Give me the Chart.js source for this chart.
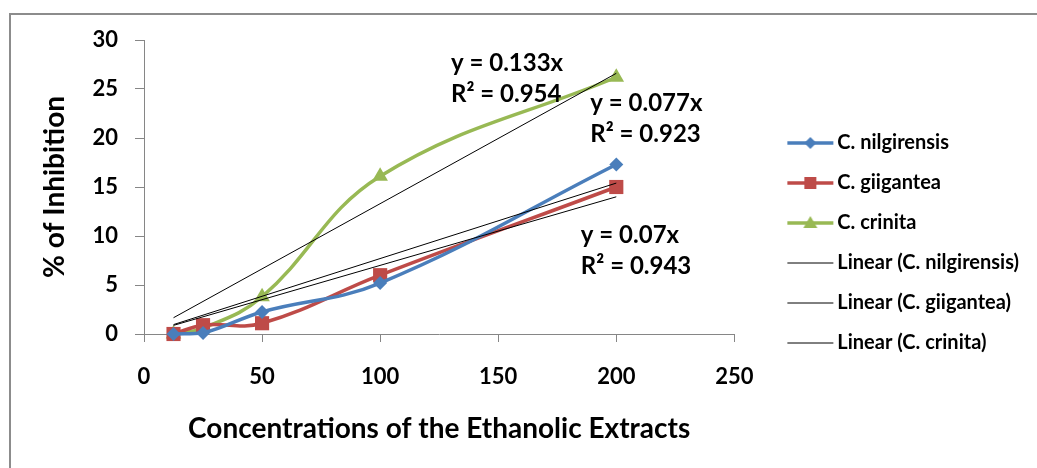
<!DOCTYPE html>
<html><head><meta charset="utf-8">
<script src="https://cdn.jsdelivr.net/npm/chart.js@4.4.1/dist/chart.umd.min.js"></script>
<style>
html,body{margin:0;padding:0;background:#fff;overflow:hidden;width:1037px;height:468px;}
#frame{position:absolute;left:9px;top:13px;width:1100px;height:520px;border:2px solid #8c8c8c;box-sizing:border-box;}
#c{position:absolute;left:0;top:0;}
</style></head><body>
<div id="frame"></div>
<canvas id="c" width="1037" height="468"></canvas>
<script>
// ---- data ----
const concentrations = [12.5, 25, 50, 100, 200];
const nilgirensis = [0, 0.1, 2.25, 5.2, 17.3];
const giigantea   = [0, 0.9, 1.1, 6.0, 15.0];
const crinita     = [0, 0.6, 3.8, 16.1, 26.2];
const trendX = [12.5, 200];
const trendNilgirensis = [0.96, 15.4];
const trendGiigantea   = [0.88, 14.0];
const trendCrinita     = [1.66, 26.6];
const seriesNames = ['C. nilgirensis', 'C. giigantea', 'C. crinita'];
const trendNames = ['Linear (C. nilgirensis)', 'Linear (C. giigantea)', 'Linear (C. crinita)'];
const xTickValues = [0, 50, 100, 150, 200, 250];
const yTickValues = [0, 5, 10, 15, 20, 25, 30];
const equationTexts = [['y = 0.133x', 'R\u00B2 = 0.954'], ['y = 0.077x', 'R\u00B2 = 0.923'], ['y = 0.07x', 'R\u00B2 = 0.943']];

// ---- styles / placement ----
const FONT = 'Lato';
const colors = ['#4A7EBB', '#BE4B48', '#98B954'];
const shapes = ['rectRot', 'rect', 'triangle'];
const radii = [7, 10, 9];
const eqAnchor = { x: [130, 189, 185], y: [27.6, 23.5, 10.1] };
const LEGEND_FONT = 20;
const LEGEND_PAD = 20;
const LEGEND_BOX_W = 73;

const toPts = (xs, ys) => xs.map((x, i) => ({ x: x, y: ys[i] }));

function legendIcon(color, shape, lw) {
  const c = document.createElement('canvas');
  c.width = 87; c.height = 18;
  const g = c.getContext('2d');
  g.strokeStyle = color; g.lineWidth = lw;
  g.beginPath(); g.moveTo(40, 9); g.lineTo(86, 9); g.stroke();
  g.fillStyle = color;
  const cx = 63, cy = 9;
  if (shape === 'rectRot') {
    g.beginPath(); g.moveTo(cx, cy - 6); g.lineTo(cx + 6, cy); g.lineTo(cx, cy + 6); g.lineTo(cx - 6, cy); g.closePath(); g.fill();
  } else if (shape === 'rect') {
    g.fillRect(cx - 6, cy - 6, 12, 12);
  } else if (shape === 'triangle') {
    g.beginPath(); g.moveTo(cx, cy - 7); g.lineTo(cx + 7, cy + 5); g.lineTo(cx - 7, cy + 5); g.closePath(); g.fill();
  }
  return c;
}
const legendIcons = [
  legendIcon(colors[0], shapes[0], 3.5),
  legendIcon(colors[1], shapes[1], 3.5),
  legendIcon(colors[2], shapes[2], 3.5),
  legendIcon('#000', null, 1),
  legendIcon('#000', null, 1),
  legendIcon('#000', null, 1)
];

const seriesData = [nilgirensis, giigantea, crinita];
const trendData = [trendNilgirensis, trendGiigantea, trendCrinita];

const datasets = [];
seriesData.forEach((vals, i) => {
  datasets.push({
    label: seriesNames[i],
    data: toPts(concentrations, vals),
    borderColor: colors[i],
    backgroundColor: colors[i],
    pointBackgroundColor: colors[i],
    pointBorderColor: colors[i],
    pointBorderWidth: 0,
    borderWidth: 3.5,
    pointStyle: shapes[i],
    pointRadius: radii[i],
    tension: 0.4,
    clip: false,
    order: 2
  });
});
trendData.forEach((vals, i) => {
  datasets.push({
    label: trendNames[i],
    data: toPts(trendX, vals),
    borderColor: '#000',
    backgroundColor: '#000',
    borderWidth: 1,
    pointRadius: 0,
    tension: 0,
    clip: false,
    order: 1
  });
});

const eqPlugin = {
  id: 'equations',
  afterDatasetsDraw(chart) {
    const { ctx, scales } = chart;
    ctx.save();
    ctx.font = 'bold 24px ' + FONT;
    ctx.fillStyle = '#000';
    ctx.textAlign = 'left';
    ctx.textBaseline = 'middle';
    equationTexts.forEach((lines, i) => {
      const px = scales.x.getPixelForValue(eqAnchor.x[i]);
      const py = scales.y.getPixelForValue(eqAnchor.y[i]);
      lines.forEach((t, j) => ctx.fillText(t, px, py + j * 31));
    });
    ctx.restore();
  }
};

const axisColor = '#868686';
new Chart(document.getElementById('c'), {
  type: 'line',
  data: { datasets: datasets },
  plugins: [eqPlugin],
  options: {
    responsive: false,
    animation: false,
    devicePixelRatio: 1,
    events: [],
    layout: { padding: { left: 0, top: 40, right: 8, bottom: 22 } },
    plugins: {
      tooltip: { enabled: false },
      legend: {
        position: 'right',
        align: 'center',
        maxWidth: 400,
        labels: {
          usePointStyle: true,
          pointStyleWidth: LEGEND_BOX_W,
          boxHeight: 16,
          padding: LEGEND_PAD,
          color: '#000',
          font: { family: FONT, size: LEGEND_FONT, weight: 'bold' },
          generateLabels: (chart) => chart.data.datasets.map((ds, i) => ({
            text: ds.label,
            pointStyle: legendIcons[i],
            datasetIndex: i,
            hidden: false,
            fillStyle: 'rgba(0,0,0,0)',
            strokeStyle: 'rgba(0,0,0,0)',
            lineWidth: 0,
            fontColor: '#000'
          }))
        }
      }
    },
    scales: {
      x: {
        type: 'linear',
        min: xTickValues[0],
        max: xTickValues[xTickValues.length - 1],
        afterBuildTicks: (s) => { s.ticks = xTickValues.map(v => ({ value: v })); },
        afterFit: (s) => { s.height = 112; },
        ticks: { color: '#000', padding: 22, font: { family: FONT, size: 22, weight: 'bold' } },
        grid: { display: true, drawOnChartArea: false, drawTicks: true, tickLength: 8, color: axisColor },
        border: { display: true, color: axisColor, width: 1 },
        title: {
          display: true, text: 'Concentrations of the Ethanolic Extracts', color: '#000',
          font: { family: FONT, size: 28, weight: 'bold' }, padding: { top: 0, bottom: 0 }
        }
      },
      y: {
        type: 'linear',
        min: yTickValues[0],
        max: yTickValues[yTickValues.length - 1],
        afterBuildTicks: (s) => { s.ticks = yTickValues.map(v => ({ value: v })); },
        afterFit: (s) => { s.width = 144; },
        ticks: { color: '#000', padding: 17, font: { family: FONT, size: 22, weight: 'bold' } },
        grid: { display: true, drawOnChartArea: false, drawTicks: true, tickLength: 9, color: axisColor },
        border: { display: true, color: axisColor, width: 1 },
        title: {
          display: true, text: '% of Inhibition', color: '#000',
          font: { family: FONT, size: 28, weight: 'bold' }, padding: { top: 38, bottom: 0 }
        }
      }
    }
  }
});
</script>
</body></html>
